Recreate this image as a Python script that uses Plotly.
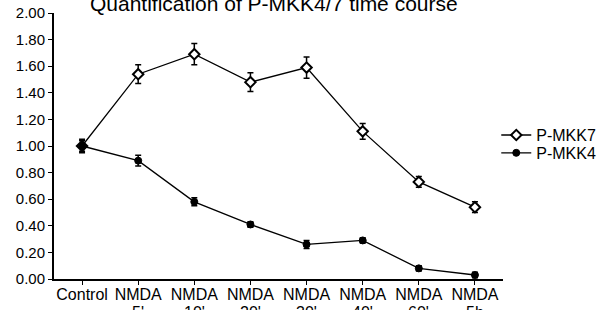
import plotly.graph_objects as go

categories = ["Control", "NMDA", "NMDA", "NMDA", "NMDA", "NMDA", "NMDA", "NMDA"]
sublabels = ["", "5'", "10'", "20'", "30'", "40'", "60'", "5h"]
mkk7 = [1.00, 1.54, 1.69, 1.48, 1.59, 1.11, 0.73, 0.54]
mkk7_err = [0.05, 0.07, 0.08, 0.07, 0.08, 0.06, 0.04, 0.04]
mkk4 = [1.00, 0.89, 0.58, 0.41, 0.26, 0.29, 0.08, 0.03]
mkk4_err = [0.04, 0.04, 0.03, 0.02, 0.03, 0.02, 0.02, 0.02]
y_ticks = [0.0, 0.2, 0.4, 0.6, 0.8, 1.0, 1.2, 1.4, 1.6, 1.8, 2.0]

FONT = "Liberation Sans, Arial, sans-serif"
xs = list(range(len(categories)))

fig = go.Figure()
fig.add_trace(go.Scatter(
    x=xs, y=mkk7, name="P-MKK7", mode="lines+markers", legend="legend",
    line=dict(color="black", width=1.3),
    marker=dict(symbol="diamond", size=8, color="white",
                line=dict(color="black", width=2)),
    error_y=dict(type="data", array=mkk7_err, color="black", thickness=1.5, width=3),
))
fig.add_trace(go.Scatter(
    x=xs, y=mkk4, name="P-MKK4", mode="lines+markers", legend="legend2",
    line=dict(color="black", width=1.3),
    marker=dict(symbol="circle", size=7, color="black",
                line=dict(color="black", width=1)),
    error_y=dict(type="data", array=mkk4_err, color="black", thickness=1.5, width=3),
))

legend_common = dict(xanchor="left", yanchor="middle",
                     font=dict(family=FONT, size=16, color="black"),
                     bgcolor="rgba(0,0,0,0)", itemwidth=30)

annotations = [dict(
    text="Quantification of P-MKK4/7 time course",
    xref="paper", yref="paper", x=0.49, y=1.035,
    xanchor="center", yanchor="middle", showarrow=False,
    font=dict(family=FONT, size=21, color="black"),
)]
for xi, sub in zip(xs, sublabels):
    if sub:
        annotations.append(dict(
            text=sub, xref="x", yref="y", x=xi, y=0,
            xanchor="center", yanchor="middle", yshift=-33, showarrow=False,
            font=dict(family=FONT, size=16, color="black"),
        ))

fig.update_layout(
    width=611, height=310,
    margin=dict(l=54, r=108, t=13, b=31, autoexpand=False),
    paper_bgcolor="white", plot_bgcolor="white",
    font=dict(family=FONT, size=15, color="black"),
    showlegend=True,
    legend=dict(x=0.985, y=0.541, **legend_common),
    legend2=dict(x=0.985, y=0.474, **legend_common),
    annotations=annotations,
)
fig.update_xaxes(
    range=[-0.5, len(categories) - 0.5], automargin=False,
    tickmode="array", tickvals=xs, ticktext=categories,
    tickson="boundaries", ticks="outside", ticklen=4, tickwidth=1, tickcolor="black",
    showline=True, linecolor="black", linewidth=2, showgrid=False, zeroline=False,
    tickfont=dict(family=FONT, size=16, color="black"),
    ticklabelstandoff=-4,
)
fig.update_yaxes(
    range=[0, 2.0], automargin=False, tickmode="array", tickvals=y_ticks,
    ticktext=[f"{v:.2f}" for v in y_ticks],
    ticks="outside", ticklen=4, tickwidth=1, tickcolor="black",
    showline=True, linecolor="black", linewidth=2, showgrid=False, zeroline=False,
    tickfont=dict(family=FONT, size=15, color="black"),
)
fig.write_html("out.html", config={"displayModeBar": False},
               post_script="document.body.style.margin='0';")
